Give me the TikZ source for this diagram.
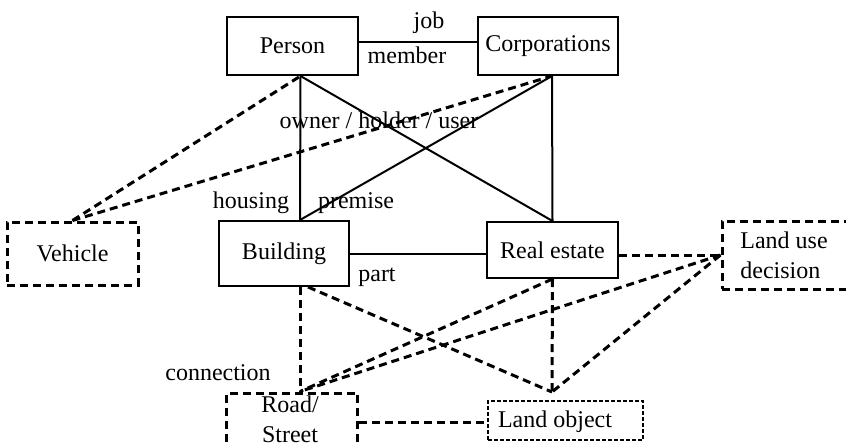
\documentclass[tikz,border=0pt]{standalone}
\usepackage{fontspec}
\setmainfont{Liberation Serif}
\begin{document}
\begin{tikzpicture}[x=0.5pt,y=-0.5pt,
  every node/.style={font=\fontsize{12}{15}\selectfont, inner sep=0pt},
  box/.style={draw, line width=1pt},
  dbox/.style={draw, line width=1.5pt, dash pattern=on 4pt off 2.5pt},
  fbox/.style={draw, line width=0.75pt, dash pattern=on 2pt off 1pt},
  link/.style={line width=1pt},
  dlink/.style={line width=1.5pt, dash pattern=on 4pt off 2.5pt},
  lbl/.style={}]
\useasboundingbox (0,0) rectangle (846,445);

% entity boxes
\node[box, minimum width=65.5pt, minimum height=29pt] (person) at (292.5,46) {Person};
\node[box, minimum width=70pt, minimum height=29pt] (corp) at (548,46) {Corporations};
\node[dbox, minimum width=65.5pt, minimum height=31.5pt] (vehicle) at (72.5,253.5) {Vehicle};
\node[box, minimum width=65pt, minimum height=32.5pt] (building) at (284,253.5) {Building};
\node[box, minimum width=65.5pt, minimum height=28pt] (realestate) at (552.5,250) {Real estate};
\node[dbox, minimum width=74pt, minimum height=34pt] (landuse) at (796,255) {};
\node[align=left, anchor=west] (landusetext) at (740,255) {Land use\\decision};
\node[dbox, minimum width=65.5pt, minimum height=43.5pt] (road) at (292,436.5) {};
\node[align=center] (roadtext) at (290,419) {Road/\\Street};
\node[fbox, minimum width=77.5pt, minimum height=19.5pt] (landobj) at (565.5,420.5) {};
\node (landobjtext) at (555,422) {Land object};

% attachment points
\coordinate (pS) at ([xshift=4pt]person.south);
\coordinate (cS) at ([xshift=2pt]corp.south);
\coordinate (bN) at ([xshift=8pt]building.north);
\coordinate (bS) at ([xshift=8pt]building.south);
\coordinate (bS2) at ([xshift=12pt]building.south);
\coordinate (rN) at ([xshift=4pt]road.north);
\coordinate (apex) at (552,392);
\coordinate (lo) at ([yshift=-1pt]landobj.west);

% solid relations
\draw[link] ([yshift=2pt]person.east) -- ([yshift=2pt]corp.west);
\draw[link] (pS) -- (bN);
\draw[link] (pS) -- (realestate.north);
\draw[link] (cS) -- (realestate.north);
\draw[link] (cS) -- (bN);
\draw[link] (building.east) -- (building.east -| realestate.west);

% dashed relations
\draw[dlink] (vehicle.north) -- (pS);
\draw[dlink] (vehicle.north) -- (cS);
\draw[dlink] ([yshift=-2.5pt]realestate.east) -- (landuse.west);
\draw[dlink] (landuse.west) -- (rN);
\draw[dlink] (landuse.west) -- (apex);
\draw[dlink] (realestate.south) -- (rN);
\draw[dlink] (realestate.south) -- (apex);
\draw[dlink] (bS) -- (rN);
\draw[dlink] (bS2) -- (apex);
\draw[dlink] (road.east |- lo) -- (lo);

% relation labels
\node[lbl] (job) at (429,23) {job};
\node[lbl] (member) at (407,55) {member};
\node[lbl] (owner) at (379,120) {owner / holder / user};
\node[lbl] (housing) at (251,203) {housing};
\node[lbl] (premise) at (356,203) {premise};
\node[lbl] (part) at (377,277) {part};
\node[lbl] (connection) at (218,373) {connection};
\end{tikzpicture}
\end{document}
